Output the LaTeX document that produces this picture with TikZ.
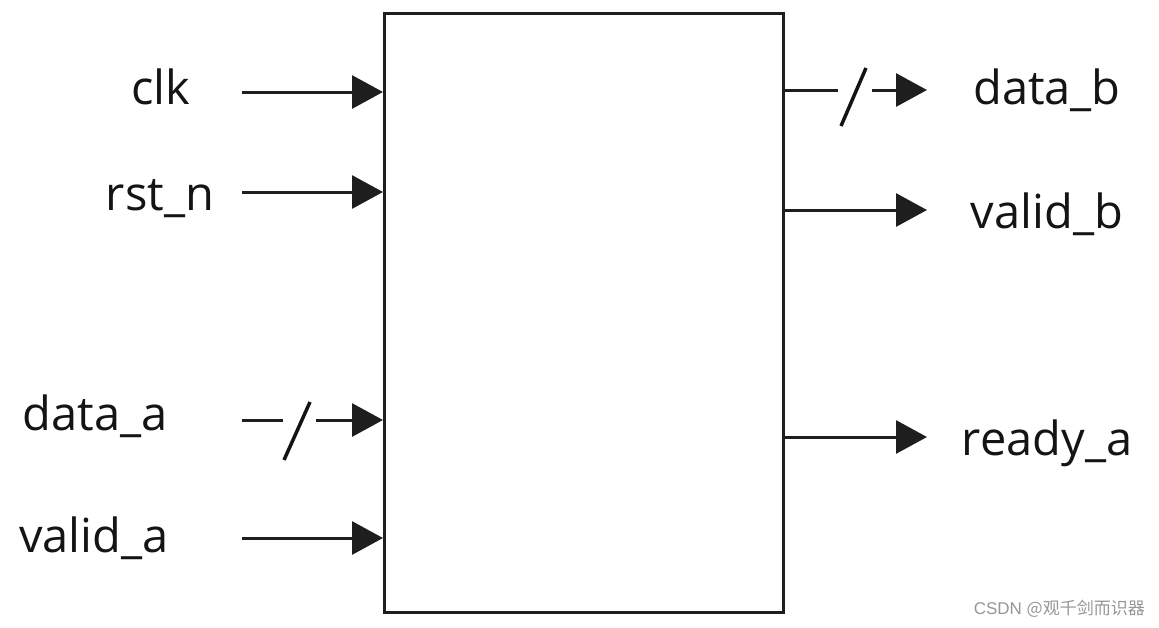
\documentclass[tikz,border=0pt]{standalone}
\usepackage{fontspec}
\setmainfont{Open Sans}
\newfontfamily\cjkfont{Noto Sans CJK SC}
\usetikzlibrary{arrows.meta}
\begin{document}
\begin{tikzpicture}[x=1pt,y=-1pt,
  sig/.style={line width=3pt,draw={rgb,255:red,30;green,30;blue,30},-{Triangle[length=31pt,width=33pt]}},
  wire/.style={line width=3pt,draw={rgb,255:red,30;green,30;blue,30}},
  lbl/.style={anchor=base,inner sep=0pt,font=\fontsize{47}{52}\selectfont,text={rgb,255:red,20;green,20;blue,20}},
  bus/.style={line width=3.5pt,draw={rgb,255:red,20;green,20;blue,20}}]
\useasboundingbox (0,0) rectangle (1159,627);
\node[draw={rgb,255:red,30;green,30;blue,30},line width=3pt,minimum width=399pt,minimum height=599pt,inner sep=0pt,anchor=north west] (blk) at (383,12) {};
% left inputs
\node[lbl] (clk) at (161,104) {clk};
\node[lbl] (rst) at (160,210) {rst\_n};
\node[lbl] (da) at (95,430) {data\_a};
\node[lbl] (va) at (94,552) {valid\_a};
\coordinate (clks) at (242,92);
\coordinate (rsts) at (242,192);
\coordinate (das) at (242,420);
\coordinate (vas) at (242,538);
\coordinate (dam1) at (283,420);
\coordinate (dam2) at (316,420);
\coordinate (dasl1) at (284,460);
\coordinate (dasl2) at (310,402);
\draw[sig] (clks) -- (clks -| blk.west);
\draw[sig] (rsts) -- (rsts -| blk.west);
\draw[wire] (das) -- (dam1);
\draw[bus] (dasl1) -- (dasl2);
\draw[sig] (dam2) -- (dam2 -| blk.west);
\draw[sig] (vas) -- (vas -| blk.west);
% right outputs
\node[lbl] (db) at (1047,104) {data\_b};
\node[lbl] (vb) at (1047,228) {valid\_b};
\node[lbl] (ra) at (1047,455) {ready\_a};
\coordinate (dbe) at (927,90);
\coordinate (vbe) at (927,210);
\coordinate (rae) at (927,437);
\coordinate (dbm1) at (838,90);
\coordinate (dbm2) at (872,90);
\coordinate (dbsl1) at (841,126);
\coordinate (dbsl2) at (866,68);
\draw[wire] (dbe -| blk.east) -- (dbm1);
\draw[bus] (dbsl1) -- (dbsl2);
\draw[sig] (dbm2) -- (dbe);
\draw[sig] (vbe -| blk.east) -- (vbe);
\draw[sig] (rae -| blk.east) -- (rae);
% watermark
\node[anchor=base east,inner sep=0pt,text={rgb,255:red,150;green,150;blue,150},font=\fontsize{17}{20}\selectfont] (wm) at (1145,614) {\fontspec{Liberation Sans}CSDN \cjkfont @观千剑而识器};
\end{tikzpicture}
\end{document}
